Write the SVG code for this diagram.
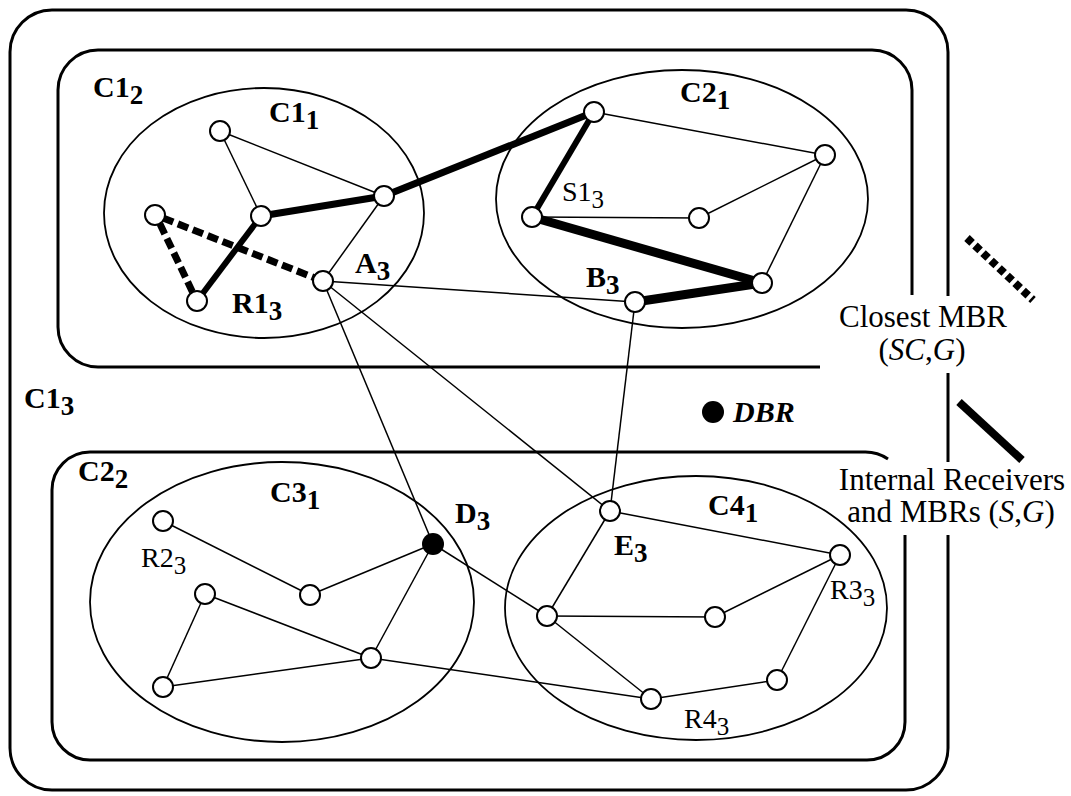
<svg xmlns="http://www.w3.org/2000/svg" width="1071" height="796" viewBox="0 0 1071 796">
<style>
.box{fill:none;stroke:#000;stroke-width:3}
.ell{fill:none;stroke:#000;stroke-width:1.8}
.e{stroke:#000;stroke-width:1.5;fill:none}
.t{stroke:#000;stroke-linecap:butt;fill:none}
.d{stroke:#000;stroke-width:7;stroke-dasharray:11 5;fill:none}
.n{fill:#fff;stroke:#000;stroke-width:2}
text{font-family:'Liberation Serif','Times New Roman','DejaVu Serif',serif}
.lb{font-weight:bold;font-size:30px}
.lr{font-size:28px}
.sb{font-size:27px}
.sr{font-size:25px}
.lg{font-size:31px;text-anchor:middle}
</style>
<rect width="1071" height="796" fill="#fff"/>
<g id="boxes">
<path class="box" d="M948,296 L948,52 A42,42 0 0 0 906,10 L52,10 A42,42 0 0 0 10,52 L10,748 A42,42 0 0 0 52,790 L906,790 A42,42 0 0 0 948,748 L948,535 M948,373 L948,462"/>
<path class="box" d="M912,295 L912,90 A40,40 0 0 0 872,50 L98,50 A40,40 0 0 0 58,90 L58,327 A40,40 0 0 0 98,367 L820,367"/>
<path class="box" d="M888,459 A40,40 0 0 0 865,452 L90,452 A38,38 0 0 0 52,490 L52,722 A38,38 0 0 0 90,760 L867,760 A38,38 0 0 0 905,722 L905,535"/>
<ellipse class="ell" cx="264" cy="213" rx="160" ry="125"/>
<ellipse class="ell" cx="682" cy="199" rx="186" ry="129"/>
<ellipse class="ell" cx="282" cy="602" rx="192" ry="140"/>
<ellipse class="ell" cx="696" cy="608" rx="191" ry="132"/>
</g>
<g id="connectors">
<line class="e" x1="220" y1="131" x2="261" y2="216"/>
<line class="e" x1="220" y1="131" x2="384" y2="196"/>
<line class="e" x1="384" y1="196" x2="323" y2="281"/>
<line class="e" x1="323" y1="281" x2="635" y2="302"/>
<line class="e" x1="323" y1="281" x2="433" y2="544"/>
<line class="e" x1="323" y1="281" x2="610" y2="511"/>
<line class="e" x1="635" y1="302" x2="610" y2="511"/>
<line class="e" x1="594" y1="112" x2="825" y2="155"/>
<line class="e" x1="825" y1="155" x2="699" y2="218"/>
<line class="e" x1="532" y1="217" x2="699" y2="218"/>
<line class="e" x1="825" y1="155" x2="762" y2="283"/>
<line class="e" x1="163" y1="521" x2="310" y2="595"/>
<line class="e" x1="310" y1="595" x2="433" y2="544"/>
<line class="e" x1="433" y1="544" x2="371" y2="658"/>
<line class="e" x1="205" y1="594" x2="371" y2="658"/>
<line class="e" x1="205" y1="594" x2="163" y2="687"/>
<line class="e" x1="163" y1="687" x2="371" y2="658"/>
<line class="e" x1="371" y1="658" x2="651" y2="699"/>
<line class="e" x1="433" y1="544" x2="547" y2="616"/>
<line class="e" x1="610" y1="511" x2="840" y2="555"/>
<line class="e" x1="610" y1="511" x2="547" y2="616"/>
<line class="e" x1="547" y1="616" x2="715" y2="617"/>
<line class="e" x1="715" y1="617" x2="840" y2="555"/>
<line class="e" x1="840" y1="555" x2="777" y2="680"/>
<line class="e" x1="777" y1="680" x2="651" y2="699"/>
<line class="e" x1="547" y1="616" x2="651" y2="699"/>
<line class="d" x1="163" y1="218" x2="315" y2="278"/>
<line class="d" x1="160" y1="224" x2="193" y2="293"/>
<line class="t" stroke-width="6" x1="197" y1="301" x2="261" y2="216"/>
<line class="t" stroke-width="7" x1="261" y1="216" x2="384" y2="196"/>
<line class="t" stroke-width="7" x1="384" y1="196" x2="594" y2="112"/>
<line class="t" stroke-width="6" x1="594" y1="112" x2="532" y2="217"/>
<line class="t" stroke-width="9" x1="532" y1="217" x2="762" y2="283"/>
<line class="t" stroke-width="9" x1="762" y1="283" x2="635" y2="302"/>
</g>
<g id="nodes">
<circle class="n" cx="220" cy="131" r="10"/>
<circle class="n" cx="261" cy="216" r="10"/>
<circle class="n" cx="384" cy="196" r="10"/>
<circle class="n" cx="155" cy="215" r="10"/>
<circle class="n" cx="197" cy="301" r="10"/>
<circle class="n" cx="323" cy="281" r="10"/>
<circle class="n" cx="594" cy="112" r="10"/>
<circle class="n" cx="825" cy="155" r="10"/>
<circle class="n" cx="532" cy="217" r="10"/>
<circle class="n" cx="699" cy="218" r="10"/>
<circle class="n" cx="762" cy="283" r="10"/>
<circle class="n" cx="635" cy="302" r="10"/>
<circle class="n" cx="163" cy="521" r="10"/>
<circle class="n" cx="310" cy="595" r="10"/>
<circle class="n" cx="205" cy="594" r="10"/>
<circle cx="433" cy="544" r="11" fill="#000"/>
<circle class="n" cx="371" cy="658" r="10"/>
<circle class="n" cx="163" cy="687" r="10"/>
<circle class="n" cx="610" cy="511" r="10"/>
<circle class="n" cx="547" cy="616" r="10"/>
<circle class="n" cx="715" cy="617" r="10"/>
<circle class="n" cx="840" cy="555" r="10"/>
<circle class="n" cx="777" cy="680" r="10"/>
<circle class="n" cx="651" cy="699" r="10"/>
<circle cx="713" cy="412" r="11" fill="#000"/>
</g>
<g id="labels">
<text class="lb" x="93" y="97">C1<tspan class="sb" dy="7">2</tspan></text>
<text class="lb" x="269" y="122">C1<tspan class="sb" dy="7">1</tspan></text>
<text class="lb" x="355" y="273">A<tspan class="sb" dy="7">3</tspan></text>
<text class="lb" x="232" y="313">R1<tspan class="sb" dy="7">3</tspan></text>
<text class="lb" x="680" y="102">C2<tspan class="sb" dy="7">1</tspan></text>
<text class="lr" x="562" y="201">S1<tspan class="sr" dy="7">3</tspan></text>
<text class="lb" x="586" y="287">B<tspan class="sb" dy="7">3</tspan></text>
<text class="lb" x="24" y="408">C1<tspan class="sb" dy="7">3</tspan></text>
<text class="lb" x="78" y="481">C2<tspan class="sb" dy="7">2</tspan></text>
<text class="lb" x="270" y="502">C3<tspan class="sb" dy="7">1</tspan></text>
<text class="lb" x="455" y="523">D<tspan class="sb" dy="7">3</tspan></text>
<text class="lr" x="141" y="567">R2<tspan class="sr" dy="7">3</tspan></text>
<text class="lb" x="708" y="515">C4<tspan class="sb" dy="7">1</tspan></text>
<text class="lb" x="614" y="555">E<tspan class="sb" dy="7">3</tspan></text>
<text class="lr" x="830" y="599">R3<tspan class="sr" dy="7">3</tspan></text>
<text class="lr" x="684" y="728">R4<tspan class="sr" dy="7">3</tspan></text>
<text class="lb" x="733" y="422" font-style="italic">DBR</text>
</g>
<g id="legend">
<line x1="967" y1="238" x2="1033" y2="300" stroke="#000" stroke-width="8" stroke-dasharray="7 4"/>
<line x1="959" y1="402" x2="1022" y2="460" stroke="#000" stroke-width="8"/>
<text class="lg" x="923" y="327">Closest MBR</text>
<text class="lg" x="922" y="360">(<tspan font-style="italic">SC</tspan>,<tspan font-style="italic">G</tspan>)</text>
<text class="lg" x="952" y="490">Internal Receivers</text>
<text class="lg" x="951" y="522">and MBRs (<tspan font-style="italic">S</tspan>,<tspan font-style="italic">G</tspan>)</text>
</g>
</svg>
